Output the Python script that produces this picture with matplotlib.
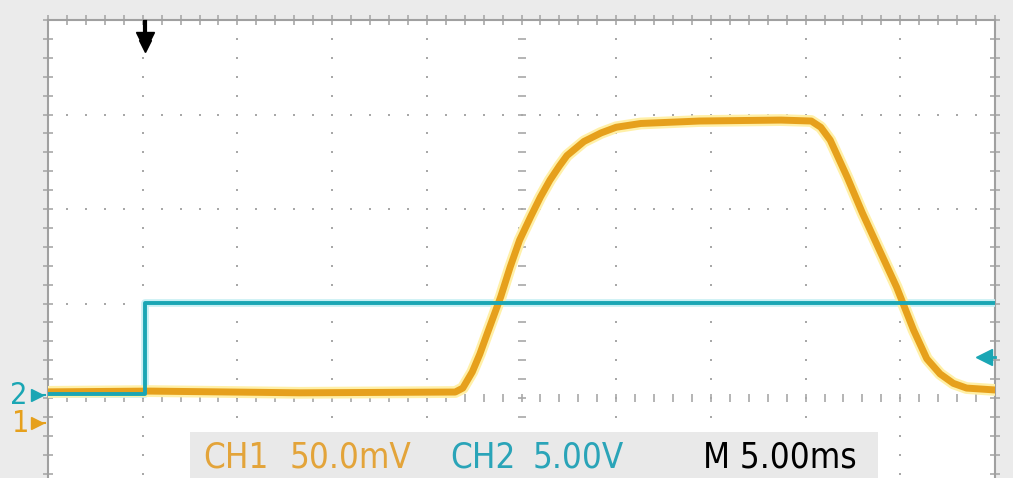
import numpy as np
import matplotlib.pyplot as plt
from matplotlib.patches import Rectangle
from matplotlib import transforms

# scope settings
ms_per_div = 5.0
ch1_mv_per_div = 50.0
ch2_v_per_div = 5.0
ch1_ground_div = -0.265   # position of the "1" marker
ch2_ground_div = 0.03     # position of the "2" marker
trigger_time_ms = 5.1
trigger_level_v = 2.0

# CH1 trace (orange)
ch1_t = [0.0, 5.4, 13.3, 21.5, 21.9, 22.4, 22.8, 23.2, 23.9, 24.4, 24.9, 25.5,
         26.0, 26.5, 27.0, 27.4, 28.3, 29.2, 30.0, 31.3, 34.4, 38.7, 40.3,
         40.8, 41.3, 42.2, 43.0, 43.9, 44.8, 45.7, 46.4, 47.1, 47.8, 48.5, 50.0]
ch1_mv = [16.5, 16.9, 16.0, 16.4, 18.5, 27.0, 36.5, 47.6, 66.7, 82.5, 96.8,
          109.5, 119.6, 128.5, 136.0, 141.5, 149.0, 153.5, 156.5, 158.5, 159.8,
          160.3, 159.8, 156.5, 149.7, 130.0, 111.1, 91.5, 72.0, 49.2, 34.0,
          26.0, 21.0, 18.5, 17.5]

# CH2 trace (cyan)
ch2_t = [0.0, 5.1, 5.1, 50.0]
ch2_v = [0.05, 0.05, 4.9, 4.9]

labels = ["CH1", "50.0mV", "CH2", "5.00V", "M 5.00ms"]

orange = "#e6a01c"
teal = "#1aa6b4"
grid_c = "#a8a8a8"

W, H = 1013, 478
fig = plt.figure(figsize=(W / 100, H / 100), dpi=100, facecolor="#ebebeb")
ax = fig.add_axes([48 / W, 0, 947 / W, 458 / H])
ax.set_facecolor("white")
ax.set_xlim(0, 10)
ax.set_ylim(4 - 458 / 94.5, 4)
ax.set_xticks([])
ax.set_yticks([])
for s in ["left", "top", "right"]:
    ax.spines[s].set_color("#a0a0a0")
    ax.spines[s].set_linewidth(1.5)
ax.spines["bottom"].set_visible(False)

# dotted graticule
fine = np.arange(0, 10.01, 0.2)
fine_y = np.arange(-0.8, 4.01, 0.2)
for gx in range(1, 10):
    if gx == 5:
        continue
    ax.plot(np.full_like(fine_y, gx), fine_y, ls="none", marker="s",
            ms=1.8, color=grid_c, mew=0)
for gy in [1, 2, 3]:
    ax.plot(fine, np.full_like(fine, gy), ls="none", marker="s",
            ms=1.8, color=grid_c, mew=0)
# centre cross with small ticks
ax.plot(np.full_like(fine_y, 5), fine_y, ls="none", marker="_", ms=6,
        color=grid_c, mew=1.2)
ax.plot(fine, np.zeros_like(fine), ls="none", marker="|", ms=6,
        color=grid_c, mew=1.2)
# ticks on the frame
ax.plot(fine, np.full_like(fine, 4), ls="none", marker="|", ms=7,
        color=grid_c, mew=1.2, clip_on=False)
ax.plot(np.zeros_like(fine_y), fine_y, ls="none", marker="_", ms=7,
        color=grid_c, mew=1.2, clip_on=False)
ax.plot(np.full_like(fine_y, 10), fine_y, ls="none", marker="_", ms=7,
        color=grid_c, mew=1.2, clip_on=False)

# traces
x1 = np.array(ch1_t) / ms_per_div
y1 = np.array(ch1_mv) / ch1_mv_per_div + ch1_ground_div
x2 = np.array(ch2_t) / ms_per_div
y2 = np.array(ch2_v) / ch2_v_per_div + ch2_ground_div

ax.plot(x2, y2, color="#c8f0f4", lw=5.5, solid_capstyle="butt", zorder=3)
ax.plot(x1, y1, color="#fff0a8", lw=8.5, solid_joinstyle="round", zorder=4)
ax.plot(x1, y1, color=orange, lw=5, solid_joinstyle="round", zorder=5)
ax.plot(x2, y2, color=teal, lw=2.8, zorder=6)

# trigger position arrow (top) and trigger level arrow (right)
tx = trigger_time_ms / ms_per_div
ax.plot([tx, tx], [3.98, 3.8], color="black", lw=3, clip_on=False, zorder=7)
ax.plot([tx], [3.78], marker="v", ms=13, color="black", clip_on=False,
        zorder=7)
ax.plot([tx], [3.72], marker="v", ms=8, color="black", clip_on=False,
        zorder=7)
ty = trigger_level_v / ch2_v_per_div + ch2_ground_div
ax.plot([9.86, 10], [ty, ty], color=teal, lw=2, clip_on=False, zorder=7)
ax.plot([9.88], [ty], marker="<", ms=12, color=teal, clip_on=False, zorder=7)

# channel ground markers on the left
tr = transforms.blended_transform_factory(fig.transFigure, ax.transData)
fig.text(19 / W, ch2_ground_div, "2", transform=tr, color=teal,
         fontsize=22, ha="center", va="center",
         family="DejaVu Sans", fontstretch="condensed")
fig.text(21 / W, ch1_ground_div, "1", transform=tr, color=orange,
         fontsize=22, ha="center", va="center",
         family="DejaVu Sans", fontstretch="condensed")
fig.lines.append(plt.Line2D([37 / W, 45 / W], [ch2_ground_div] * 2,
                            transform=tr, marker=">", markevery=[0], ms=8,
                            color=teal, lw=1.5))
fig.lines.append(plt.Line2D([37 / W, 45 / W], [ch1_ground_div] * 2,
                            transform=tr, marker=">", markevery=[0], ms=8,
                            color=orange, lw=1.5))

# bottom readout box
fig.patches.append(Rectangle((190 / W, 0), 688 / W, 46 / H,
                             transform=fig.transFigure, facecolor="#e9e9e9",
                             edgecolor="none", zorder=2))
text_x = [203, 290, 450, 533, 703]
text_c = ["#e3a43a", "#e3a43a", "#2aa4b8", "#2aa4b8", "black"]
for lx, lab, c in zip(text_x, labels, text_c):
    fig.text(lx / W, 21 / H, lab, color=c, fontsize=25, ha="left",
             va="center", family="DejaVu Sans", fontstretch="condensed",
             zorder=3)

plt.savefig("out.png", dpi=100, facecolor=fig.get_facecolor())
